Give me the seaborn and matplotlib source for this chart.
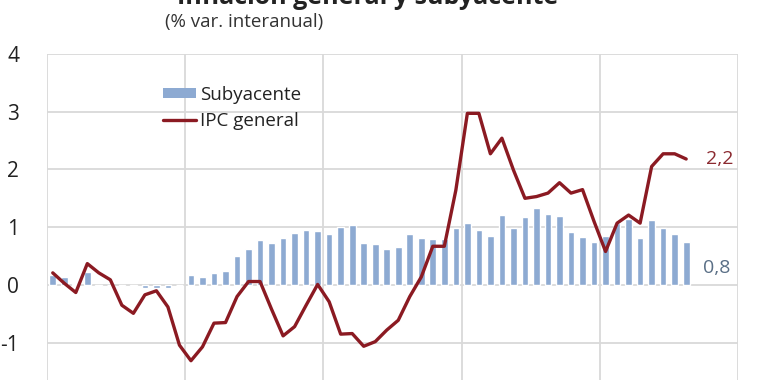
import matplotlib
matplotlib.use("Agg")
import matplotlib.pyplot as plt
import seaborn as sns
import pandas as pd
import numpy as np
from matplotlib.patches import Patch
from matplotlib.lines import Line2D

# ---- data (Jan 2014 - Aug 2018, monthly, % y/y) ----
years = [2014, 2015, 2016, 2017, 2018]
months = [f"{y}-{m:02d}" for y in years for m in range(1, 13)][:56]

subyacente = [0.17, 0.13, 0.02, 0.23, -0.01, 0.00, -0.02, -0.02, -0.05, -0.05, -0.05, 0.00,
              0.17, 0.14, 0.20, 0.24, 0.51, 0.62, 0.77, 0.73, 0.82, 0.90, 0.95, 0.93,
              0.89, 1.00, 1.04, 0.73, 0.71, 0.62, 0.66, 0.88, 0.81, 0.79, 0.80, 0.98,
              1.07, 0.95, 0.85, 1.21, 0.98, 1.17, 1.34, 1.23, 1.19, 0.91, 0.83, 0.75,
              0.85, 1.07, 1.14, 0.81, 1.12, 0.98, 0.88, 0.75]

ipc_general = [0.21, 0.03, -0.13, 0.37, 0.21, 0.09, -0.35, -0.49, -0.17, -0.10, -0.38, -1.04,
               -1.31, -1.07, -0.66, -0.65, -0.20, 0.06, 0.06, -0.42, -0.88, -0.72, -0.35, 0.01,
               -0.29, -0.85, -0.84, -1.06, -0.98, -0.78, -0.61, -0.20, 0.14, 0.67, 0.67, 1.64,
               2.97, 2.97, 2.27, 2.54, 1.99, 1.50, 1.53, 1.59, 1.77, 1.59, 1.65, 1.10,
               0.58, 1.07, 1.21, 1.07, 2.05, 2.27, 2.27, 2.18]

series_names = ["Subyacente", "IPC general"]
yticks = [-1, 0, 1, 2, 3, 4]
label_last_ipc = "2,2"
label_last_sub = "0,8"
title = "Inflación general y subyacente"
subtitle = "(% var. interanual)"

df = pd.DataFrame({"mes": months, "idx": np.arange(len(months)),
                   "sub": subyacente, "ipc": ipc_general})

BAR = "#8DAAD2"
LINE = "#8B1A22"
GRID = "#D9D9D9"

sns.set_theme(style="white")
plt.rcParams["font.family"] = ["Open Sans", "DejaVu Sans"]

W, H = 770, 380
fig = plt.figure(figsize=(W / 100, H / 100), dpi=100)
ax_left, ax_right, ax_top = 47, 738, 53.8
ax = fig.add_axes([ax_left / W, 0, (ax_right - ax_left) / W, (H - ax_top) / H])

sns.barplot(data=df, x="idx", y="sub", color=BAR, width=0.58, ax=ax,
            saturation=1, zorder=2)
sns.lineplot(data=df, x="idx", y="ipc", color=LINE, linewidth=2.4, ax=ax, zorder=3)

zero_px, unit_px = 285, 57.8
ax.set_ylim((zero_px - H) / unit_px, 4.0)
ax.set_xlim(-0.5, 59.5)
ax.set_yticks(yticks)
ax.set_yticklabels([str(t) for t in yticks], fontsize=15, color="#222222")
ax.tick_params(axis="y", length=0, pad=20)
ax.set_xticks([])
ax.set_xlabel("")
ax.set_ylabel("")
for s in ax.spines.values():
    s.set_visible(False)

for t in yticks:
    ax.axhline(t, color=GRID, linewidth=1.3, zorder=0)
for xv in [-0.5, 11.5, 23.5, 35.5, 47.5, 59.5]:
    ax.axvline(xv, color=GRID, linewidth=1.3, zorder=0)

# end labels
n = len(months) - 1
ax.annotate(label_last_ipc, xy=(n, ipc_general[-1]), xytext=(14, 0),
            textcoords="offset points", va="center", ha="left",
            fontsize=14, color="#8B2A30")
ax.annotate(label_last_sub, xy=(n, subyacente[-1]), xytext=(12, -19),
            textcoords="offset points", va="center", ha="left",
            fontsize=14, color="#5A6F86")

handles = [Patch(facecolor=BAR, edgecolor="none"),
           Line2D([0], [0], color=LINE, linewidth=2.4)]
leg = ax.legend(handles, series_names, loc="upper left",
                bbox_to_anchor=((155 - ax_left) / (ax_right - ax_left), 1 - (78 - ax_top) / (H - ax_top)),
                frameon=False, fontsize=13.5, handlelength=1.8, handleheight=0.5,
                handletextpad=0.2, labelspacing=0.45, borderaxespad=0)
for t in leg.get_texts():
    t.set_color("#222222")

fig.text(368 / W, 1 - 4 / H, title, ha="center", va="baseline",
         fontsize=18, fontweight="bold", color="#222222")
fig.text(244 / W, 1 - 22 / H, subtitle, ha="center", va="center",
         fontsize=13.5, color="#333333")

fig.savefig("out.png", dpi=100)
